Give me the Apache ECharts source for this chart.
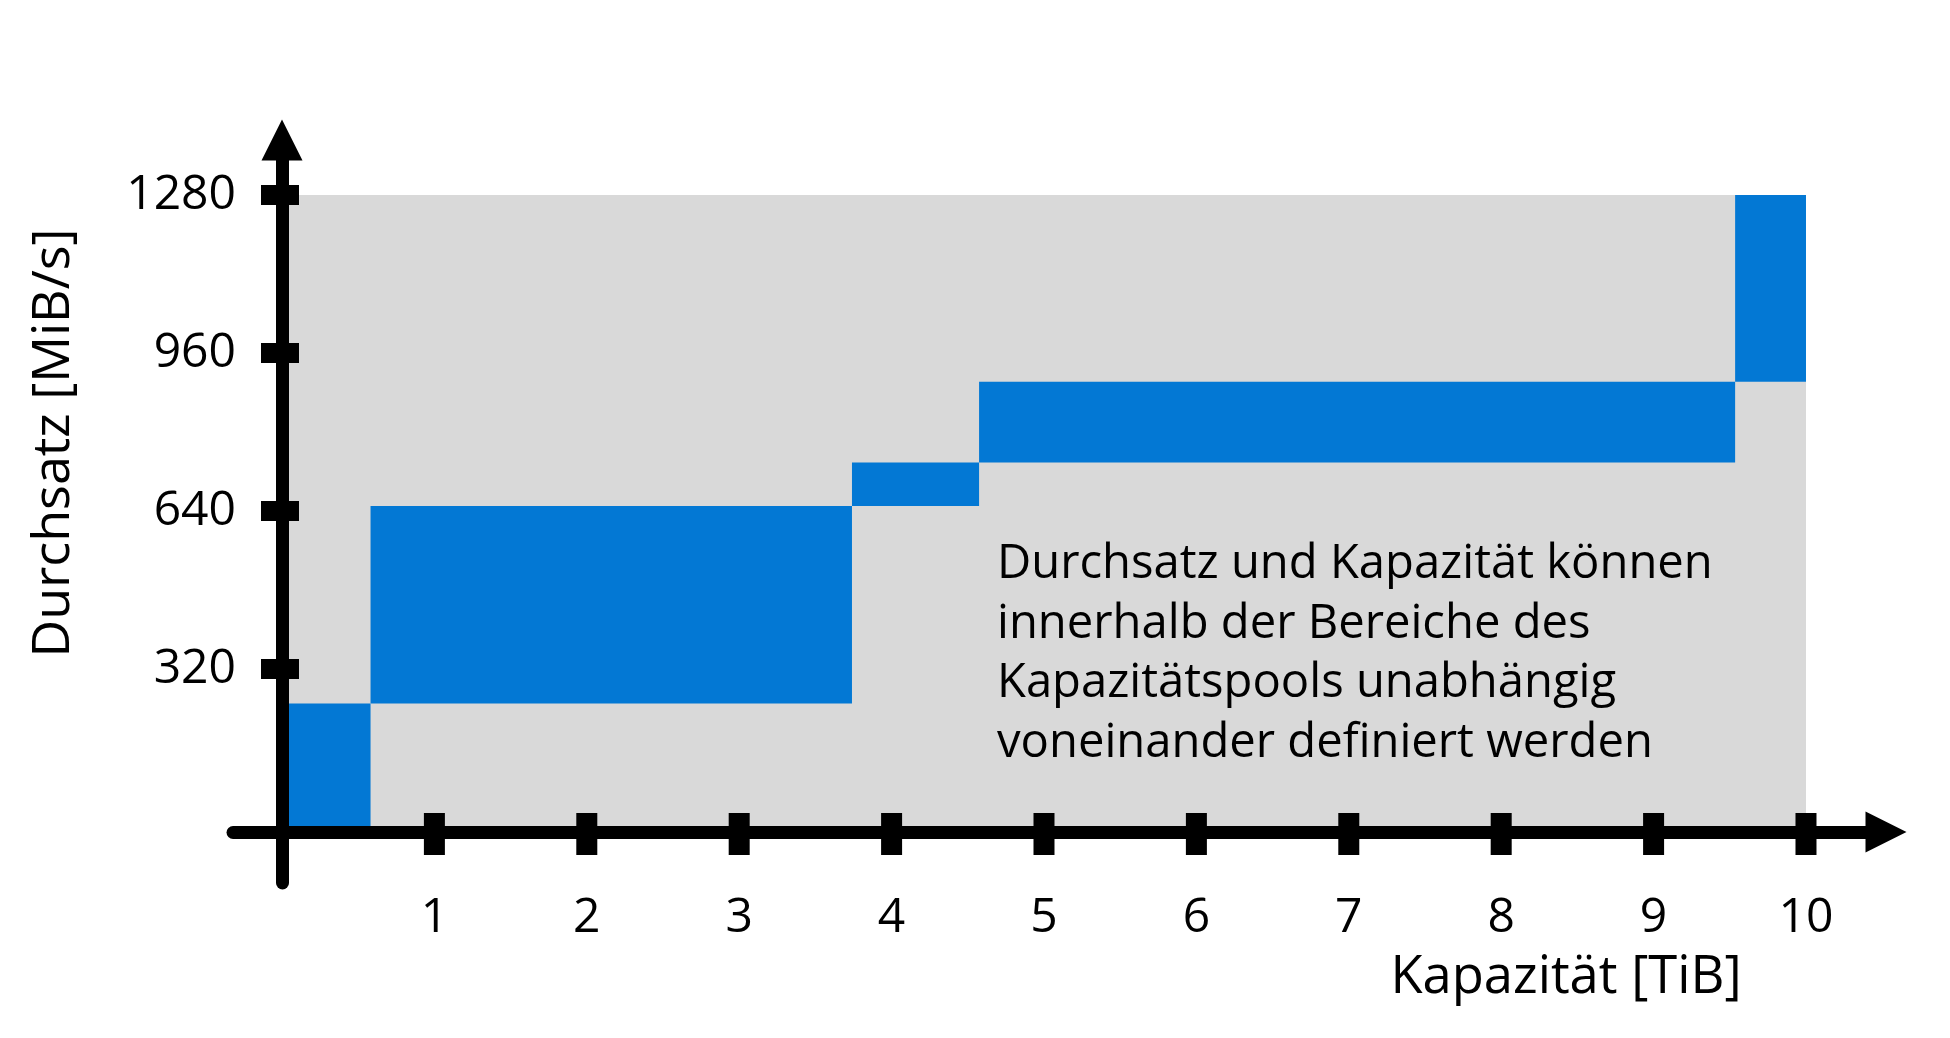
<!DOCTYPE html>
<html><head><meta charset="utf-8">
<script src="https://cdn.jsdelivr.net/npm/echarts@6/dist/echarts.min.js"></script>
<style>html,body{margin:0;padding:0;background:#fff}#c{width:1950px;height:1038px}</style>
</head><body><div id="c"></div>
<script>
// ---- data ----
const xTickValues = [1, 2, 3, 4, 5, 6, 7, 8, 9, 10];
const yTickValues = [320, 640, 960, 1280];
const capacityStart = [0, 0.581, 3.74, 4.574, 9.535];
const capacityEnd = [0.581, 3.74, 4.574, 9.535, 10];
const throughputLow = [0, 250, 650, 738, 902];
const throughputHigh = [250, 650, 738, 902, 1280];
const poolCapacityMax = 10;
const poolThroughputMax = 1280;
const xAxisName = 'Kapazität [TiB]';
const yAxisName = 'Durchsatz [MiB/s]';
const noteLines = [
  'Durchsatz und Kapazität können',
  'innerhalb der Bereiche des',
  'Kapazitätspools unabhängig',
  'voneinander definiert werden'
];

// ---- chart ----
const FONT = '"Open Sans", "Noto Sans", sans-serif';
const blueRects = capacityStart.map((s, i) => [s, capacityEnd[i], throughputLow[i], throughputHigh[i]]);
const bgRects = [[0, poolCapacityMax, 0, poolThroughputMax]];

function rectItem(params, api) {
  const p0 = api.coord([api.value(0), api.value(3)]);
  const p1 = api.coord([api.value(1), api.value(2)]);
  return {
    type: 'rect',
    shape: { x: p0[0], y: p0[1], width: p1[0] - p0[0], height: p1[1] - p0[1] },
    style: { fill: api.visual('color') }
  };
}

const chart = echarts.init(document.getElementById('c'), null, { renderer: 'canvas' });
chart.setOption({
  animation: false,
  backgroundColor: '#ffffff',
  grid: { left: 233, right: 64, top: 140, bottom: 155, containLabel: false, outerBoundsMode: 'none' },
  xAxis: {
    type: 'value',
    min: -0.3215,
    max: 10.525,
    position: 'bottom',
    offset: -51,
    z: 5,
    name: xAxisName,
    nameLocation: 'middle',
    nameGap: 120,
    nameMoveOverlap: false,
    nameTextStyle: { fontFamily: FONT, fontSize: 52.5, color: '#000', padding: [0, 0, 0, 1013] },
    axisLine: {
      onZero: false,
      lineStyle: { color: '#000', width: 13 },
      symbol: ['none', 'triangle'],
      symbolSize: [41, 41]
    },
    axisTick: { show: false },
    splitLine: { show: false },
    axisLabel: {
      customValues: xTickValues,
      formatter: v => String(v),
      margin: 62,
      fontFamily: FONT,
      fontSize: 48,
      color: '#000'
    }
  },
  yAxis: {
    type: 'value',
    min: -113.4,
    max: 1391.4,
    position: 'left',
    offset: -49,
    z: 5,
    name: yAxisName,
    nameLocation: 'middle',
    nameGap: 202,
    nameMoveOverlap: false,
    nameTextStyle: { fontFamily: FONT, fontSize: 52, color: '#000', padding: [0, 0, 0, 137] },
    axisLine: {
      onZero: false,
      lineStyle: { color: '#000', width: 13 },
      symbol: ['none', 'triangle'],
      symbolSize: [41, 41]
    },
    axisTick: { show: false },
    splitLine: { show: false },
    axisLabel: {
      customValues: yTickValues,
      formatter: v => String(v),
      margin: 46,
      fontFamily: FONT,
      fontSize: 48,
      color: '#000'
    }
  },
  series: [
    {
      name: 'Kapazitätspool',
      type: 'custom',
      renderItem: rectItem,
      itemStyle: { color: '#d9d9d9' },
      encode: { x: [0, 1], y: [2, 3] },
      data: bgRects,
      z: 1,
      silent: true
    },
    {
      name: 'Volumen',
      type: 'custom',
      renderItem: rectItem,
      itemStyle: { color: '#0378d4' },
      encode: { x: [0, 1], y: [2, 3] },
      data: blueRects,
      z: 2,
      silent: true
    },
    {
      name: 'x-ticks',
      type: 'scatter',
      symbol: 'rect',
      symbolSize: [21, 42],
      symbolOffset: [0, 7],
      itemStyle: { color: '#000', opacity: 1 },
      data: xTickValues.map(v => [v, 0]),
      z: 10,
      silent: true
    },
    {
      name: 'y-ticks',
      type: 'scatter',
      symbol: 'rect',
      symbolSize: [38, 20],
      symbolOffset: [-2, 0],
      itemStyle: { color: '#000', opacity: 1 },
      data: yTickValues.map(v => [0, v]),
      z: 10,
      silent: true
    }
  ],
  graphic: [{
    type: 'text',
    left: 997,
    top: 535,
    z: 20,
    style: {
      text: noteLines.join('\n'),
      font: '47.2px "Open Sans", "Noto Sans", sans-serif',
      fill: '#000',
      lineHeight: 59.5
    }
  }]
});
</script>
</body></html>
